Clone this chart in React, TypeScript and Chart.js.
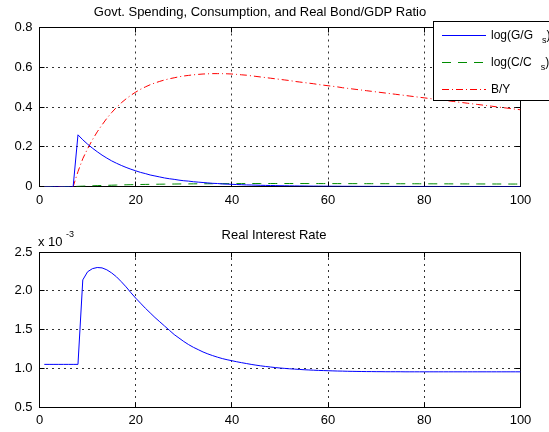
import React, { useEffect, useRef } from "react";
import { Chart, registerables } from "chart.js";

Chart.register(...registerables);

const FONT = "'Liberation Sans', Arial, Helvetica, sans-serif";

const periods = Array.from({ length: 100 }, (_, i) => i + 1);

const govSpending = [
  0, 0, 0, 0, 0, 0, 0,
  0.26, 0.235, 0.213, 0.193, 0.175, 0.158, 0.143, 0.129, 0.117, 0.106,
  0.096, 0.087, 0.079, 0.071, 0.065, 0.058, 0.053, 0.048, 0.043, 0.039,
  0.036, 0.032, 0.029, 0.027, 0.024, 0.022, 0.02, 0.018, 0.016, 0.015,
  0.013, 0.012, 0.011, 0.01, 0.009, 0.008, 0.0075, 0.0068, 0.006, 0.0055,
  0.005, 0.0045, 0.004, 0.0037, 0.0033, 0.003, 0.0027, 0.0025, 0.0022, 0.002,
  0.0018, 0.0016, 0.0015, 0.0013, 0.0012, 0.0011, 0.001, 0.0009, 0.0008, 0.0007,
  0.0007, 0.0006, 0.0005, 0.0005, 0.0004, 0.0004, 0.0004, 0.0003, 0.0003, 0.0003,
  0.0002, 0.0002, 0.0002, 0.0002, 0.0002, 0.0001, 0.0001, 0.0001, 0.0001, 0.0001,
  0.0001, 0.0001, 0.0001, 0.0001, 0.0001, 0.0001, 0.0001, 0.0001, 0, 0,
  0, 0, 0,
];

const consumption = [
  0, 0, 0, 0, 0, 0, 0,
  0.0008, 0.0018, 0.0027, 0.0036, 0.0044, 0.0052, 0.0059, 0.0066, 0.0073, 0.0079,
  0.0085, 0.0091, 0.0096, 0.0101, 0.0105, 0.0109, 0.0113, 0.0116, 0.0119, 0.0122,
  0.0125, 0.0128, 0.013, 0.0132, 0.0134, 0.0136, 0.0138, 0.0139, 0.0141, 0.0142,
  0.0143, 0.0144, 0.0145, 0.0146, 0.0147, 0.0148, 0.0148, 0.0149, 0.0149, 0.015,
  0.015, 0.015, 0.015, 0.015, 0.015, 0.0149, 0.0149, 0.0149, 0.0148, 0.0148,
  0.0148, 0.0147, 0.0147, 0.0146, 0.0146, 0.0145, 0.0145, 0.0144, 0.0144, 0.0143,
  0.0143, 0.0142, 0.0142, 0.0141, 0.0141, 0.014, 0.014, 0.0139, 0.0139, 0.0138,
  0.0138, 0.0137, 0.0136, 0.0136, 0.0135, 0.0134, 0.0134, 0.0133, 0.0132, 0.0132,
  0.0131, 0.013, 0.013, 0.0129, 0.0128, 0.0128, 0.0127, 0.0126, 0.0126, 0.0125,
  0.0124, 0.0124, 0.0123,
];

const bondToGdp = [
  0, 0, 0, 0, 0, 0, 0,
  0.075, 0.14, 0.19, 0.235, 0.275, 0.31, 0.343, 0.372, 0.398, 0.421,
  0.441, 0.459, 0.475, 0.489, 0.501, 0.512, 0.521, 0.529, 0.536, 0.542,
  0.547, 0.552, 0.556, 0.559, 0.562, 0.564, 0.566, 0.567, 0.568, 0.568,
  0.568, 0.567, 0.566, 0.564, 0.562, 0.56, 0.557, 0.554, 0.551, 0.548,
  0.545, 0.542, 0.539, 0.536, 0.533, 0.529, 0.526, 0.523, 0.52, 0.517,
  0.513, 0.51, 0.507, 0.504, 0.501, 0.497, 0.494, 0.491, 0.488, 0.485,
  0.482, 0.479, 0.476, 0.473, 0.47, 0.467, 0.464, 0.461, 0.458, 0.455,
  0.452, 0.449, 0.446, 0.443, 0.44, 0.437, 0.434, 0.431, 0.428, 0.425,
  0.422, 0.419, 0.416, 0.413, 0.41, 0.407, 0.404, 0.401, 0.398, 0.395,
  0.392, 0.389, 0.386,
];

// Real interest rate, in units of 10^-3
const realRate = [
  1.05, 1.05, 1.05, 1.05, 1.05, 1.05, 1.05, 1.05,
  2.14, 2.245, 2.285, 2.3, 2.295, 2.27, 2.23, 2.18, 2.117, 2.05,
  1.975, 1.905, 1.84, 1.775, 1.715, 1.655, 1.6, 1.545, 1.49, 1.435,
  1.39, 1.345, 1.305, 1.27, 1.24, 1.21, 1.185, 1.163, 1.143, 1.125,
  1.11, 1.097, 1.084, 1.072, 1.061, 1.05, 1.04, 1.031, 1.023, 1.016,
  1.009, 1.003, 0.998, 0.993, 0.989, 0.985, 0.981, 0.978, 0.975, 0.972,
  0.97, 0.968, 0.966, 0.964, 0.963, 0.961, 0.96, 0.959, 0.958, 0.957,
  0.957, 0.956, 0.956, 0.955, 0.955, 0.955, 0.955, 0.954, 0.954, 0.954,
  0.954, 0.954, 0.954, 0.954, 0.954, 0.954, 0.954, 0.954, 0.954, 0.954,
  0.954, 0.954, 0.954, 0.954, 0.954, 0.954, 0.954, 0.954, 0.954, 0.954,
  0.954, 0.954,
];

const topTitle = "Govt. Spending, Consumption, and Real Bond/GDP Ratio";
const bottomTitle = "Real Interest Rate";
const legendEntries = [
  { main: "log(G/G", sub: "s", tail: ")", color: "rgb(0,0,255)", dash: [] as number[] },
  { main: "log(C/C", sub: "s", tail: ")", color: "rgb(0,140,0)", dash: [9, 7] },
  { main: "B/Y", sub: "", tail: "", color: "rgb(255,0,0)", dash: [7, 3, 1, 3] },
];

const W = 549;
const H = 216;

const al = (p: number) => Math.round(p - 0.5) + 0.5;

function toPoints(ys: number[]) {
  return periods.map((t, i) => ({ x: t, y: ys[i] }));
}

function makeFramePlugin() {
  return {
    id: "matlabFrame",
    beforeDatasetsDraw(chart: any) {
      const { ctx, chartArea } = chart;
      const { left, right, top, bottom } = chartArea;
      const L = al(left), R = al(right), T = al(top), B = al(bottom);
      ctx.save();
      ctx.strokeStyle = "#000";
      ctx.lineWidth = 1;
      ctx.setLineDash([]);
      ctx.strokeRect(L, T, R - L, B - T);
      const tl = 5;
      ctx.beginPath();
      chart.scales.x.ticks.forEach((t: any) => {
        const px = al(chart.scales.x.getPixelForValue(t.value));
        ctx.moveTo(px, B); ctx.lineTo(px, B - tl);
        ctx.moveTo(px, T); ctx.lineTo(px, T + tl);
      });
      chart.scales.y.ticks.forEach((t: any) => {
        const py = al(chart.scales.y.getPixelForValue(t.value));
        ctx.moveTo(L, py); ctx.lineTo(L + tl, py);
        ctx.moveTo(R, py); ctx.lineTo(R - tl, py);
      });
      ctx.stroke();
      ctx.restore();
    },
  };
}

function makeOverlayPlugin(title: string, titleX: number, titleY: number, withLegend: boolean, withExponent: boolean) {
  return {
    id: "matlabOverlay",
    afterDraw(chart: any) {
      const { ctx } = chart;
      ctx.save();
      ctx.fillStyle = "#000";
      ctx.font = `13px ${FONT}`;
      ctx.textAlign = "center";
      ctx.textBaseline = "middle";
      ctx.fillText(title, titleX, titleY);

      if (withExponent) {
        ctx.textAlign = "left";
        ctx.textBaseline = "alphabetic";
        ctx.font = `13px ${FONT}`;
        ctx.fillText("x 10", 38, 30);
        ctx.font = `9px ${FONT}`;
        ctx.fillText("-3", 66, 21);
      }

      if (withLegend) {
        const bx = 433.5, by = 21.5;
        ctx.fillStyle = "#fff";
        ctx.fillRect(bx, by, 200, 79);
        ctx.strokeStyle = "#000";
        ctx.lineWidth = 1;
        ctx.setLineDash([]);
        ctx.strokeRect(bx, by, 200, 79);
        legendEntries.forEach((e, i) => {
          const y = 35.5 + i * 27;
          ctx.save();
          ctx.strokeStyle = e.color;
          ctx.lineWidth = 1;
          ctx.setLineDash(e.dash);
          ctx.beginPath();
          ctx.moveTo(442, y);
          ctx.lineTo(486, y);
          ctx.stroke();
          ctx.restore();
          ctx.fillStyle = "#000";
          ctx.textAlign = "left";
          ctx.textBaseline = "middle";
          ctx.font = `12px ${FONT}`;
          const x0 = 491;
          ctx.fillText(e.main, x0, y);
          let x = x0 + ctx.measureText(e.main).width;
          if (e.sub) {
            x += 9;
            ctx.font = `9px ${FONT}`;
            ctx.fillText(e.sub, x, y + 5);
            x += ctx.measureText(e.sub).width;
            ctx.font = `12px ${FONT}`;
            ctx.fillText(e.tail, x, y);
          }
        });
      }
      ctx.restore();
    },
  };
}

type PanelProps = {
  top: number;
  datasets: any[];
  yMin: number;
  yMax: number;
  yStep: number;
  areaTop: number;
  areaBottom: number;
  title: string;
  titleX: number;
  titleY: number;
  legend: boolean;
  exponent: boolean;
};

function Panel(p: PanelProps) {
  const ref = useRef<HTMLCanvasElement>(null);
  useEffect(() => {
    const canvas = ref.current;
    if (!canvas) return;
    const axisFont = { family: FONT, size: 13 };
    const gridColor = "rgba(0,0,0,0.8)";
    const chart = new Chart(canvas, {
      type: "line",
      data: { datasets: p.datasets },
      options: {
        responsive: false,
        animation: false,
        devicePixelRatio: 1,
        layout: { padding: { left: 0, right: 28.5, top: p.areaTop, bottom: 0 } },
        plugins: {
          legend: { display: false },
          tooltip: { enabled: false },
          title: { display: false },
        },
        elements: { point: { radius: 0 }, line: { tension: 0, borderWidth: 1 } },
        scales: {
          x: {
            type: "linear",
            min: 0,
            max: 100,
            afterFit: (s: any) => { s.height = H - p.areaBottom; },
            ticks: { stepSize: 20, color: "#000", font: axisFont, padding: 6, maxRotation: 0, autoSkip: false },
            grid: { color: gridColor, drawTicks: false, lineWidth: 1 },
            border: { display: false, dash: [2, 4] },
          },
          y: {
            type: "linear",
            min: p.yMin,
            max: p.yMax,
            afterFit: (s: any) => { s.width = 39.5; },
            ticks: { stepSize: p.yStep, color: "#000", font: axisFont, padding: 7 },
            grid: { color: gridColor, drawTicks: false, lineWidth: 1 },
            border: { display: false, dash: [2, 4] },
          },
        },
      } as any,
      plugins: [makeFramePlugin(), makeOverlayPlugin(p.title, p.titleX, p.titleY, p.legend, p.exponent)],
    });
    return () => chart.destroy();
  }, []);
  return (
    <div style={{ position: "absolute", left: 0, top: p.top, width: W, height: H }}>
      <canvas ref={ref} width={W} height={H} style={{ width: W, height: H, display: "block" }} />
    </div>
  );
}

export default function App() {
  const topSets = [
    { label: "log(G/G_s)", data: toPoints(govSpending), borderColor: "rgb(0,0,255)", borderWidth: 1, pointRadius: 0, fill: false, order: 0 },
    { label: "log(C/C_s)", data: toPoints(consumption), borderColor: "rgb(0,140,0)", borderWidth: 1, borderDash: [9, 7], pointRadius: 0, fill: false, order: 1 },
    { label: "B/Y", data: toPoints(bondToGdp), borderColor: "rgb(255,0,0)", borderWidth: 1, borderDash: [7, 3, 1, 3], pointRadius: 0, fill: false, order: 2 },
  ];
  const bottomSets = [
    { label: "Real Interest Rate", data: toPoints(realRate), borderColor: "rgb(0,0,255)", borderWidth: 1, pointRadius: 0, fill: false },
  ];
  return (
    <div style={{ position: "absolute", left: 0, top: 0, width: W, height: 432, background: "#fff", overflow: "hidden" }}>
      <Panel top={0} datasets={topSets} yMin={0} yMax={0.8} yStep={0.2} areaTop={27.5} areaBottom={186.5}
        title={topTitle} titleX={260} titleY={12} legend={true} exponent={false} />
      <Panel top={216} datasets={bottomSets} yMin={0.5} yMax={2.5} yStep={0.5} areaTop={36} areaBottom={191}
        title={bottomTitle} titleX={274} titleY={19} legend={false} exponent={true} />
    </div>
  );
}
